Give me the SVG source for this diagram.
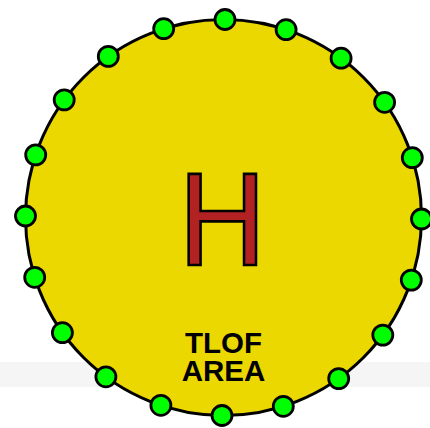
<svg xmlns="http://www.w3.org/2000/svg" width="430" height="428" viewBox="0 0 430 428">
<style>
.dot{fill:#00FF00;stroke:#000;stroke-width:2.8}
.lbl{font-family:"Liberation Sans",Arial,sans-serif;font-weight:bold;font-size:29.5px;fill:#000;text-anchor:middle}
</style>
<rect x="0" y="0" width="430" height="428" fill="#fff"/>
<rect x="0" y="362" width="430" height="25" fill="#f5f5f5"/>
<g id="tlof">
<circle cx="223.5" cy="217.5" r="198" fill="#EAD800" stroke="#000" stroke-width="3"/>
</g>
<g id="h-mark">
<text x="222.3" y="265.4" transform="translate(222.3 0) scale(0.97 1) translate(-222.3 0)" font-family="DejaVu Sans, sans-serif" font-size="125" text-anchor="middle" fill="#B22222" stroke="#000" stroke-width="2.65">H</text>
</g>
<g id="label">
<text class="lbl" x="223.5" y="353.3">TLOF</text>
<text class="lbl" x="223.5" y="380.7">AREA</text>
</g>
<g id="lights">
<circle class="dot" cx="225.0" cy="19.5" r="10"/>
<circle class="dot" cx="286.1" cy="29.7" r="10"/>
<circle class="dot" cx="341.1" cy="58.2" r="10"/>
<circle class="dot" cx="384.6" cy="102.3" r="10"/>
<circle class="dot" cx="412.3" cy="157.7" r="10"/>
<circle class="dot" cx="421.5" cy="219.0" r="10"/>
<circle class="dot" cx="411.3" cy="280.1" r="10"/>
<circle class="dot" cx="382.8" cy="335.1" r="10"/>
<circle class="dot" cx="338.7" cy="378.6" r="10"/>
<circle class="dot" cx="283.3" cy="406.3" r="10"/>
<circle class="dot" cx="222.0" cy="415.5" r="10"/>
<circle class="dot" cx="160.9" cy="405.3" r="10"/>
<circle class="dot" cx="105.9" cy="376.8" r="10"/>
<circle class="dot" cx="62.4" cy="332.7" r="10"/>
<circle class="dot" cx="34.7" cy="277.3" r="10"/>
<circle class="dot" cx="25.5" cy="216.0" r="10"/>
<circle class="dot" cx="35.7" cy="154.9" r="10"/>
<circle class="dot" cx="64.2" cy="99.9" r="10"/>
<circle class="dot" cx="108.3" cy="56.4" r="10"/>
<circle class="dot" cx="163.7" cy="28.7" r="10"/>
</g>
</svg>
